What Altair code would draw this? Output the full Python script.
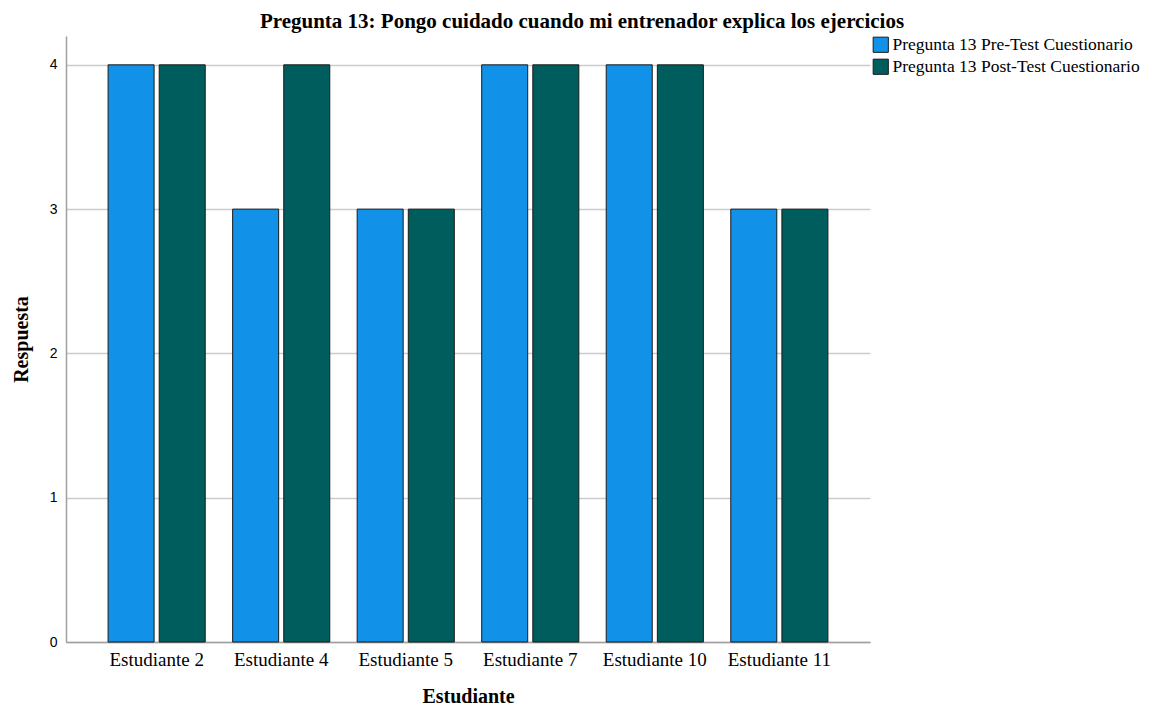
import altair as alt
import pandas as pd

students = ["Estudiante 2", "Estudiante 4", "Estudiante 5", "Estudiante 7", "Estudiante 10", "Estudiante 11"]
series = ["Pregunta 13 Pre-Test Cuestionario", "Pregunta 13 Post-Test Cuestionario"]
pre = [4, 3, 3, 4, 4, 3]
post = [4, 4, 3, 4, 4, 3]
colors = ["#1192e8", "#005d5d"]

rows = []
for s, a, b in zip(students, pre, post):
    rows.append({"Estudiante": s, "Serie": series[0], "Respuesta": a})
    rows.append({"Estudiante": s, "Serie": series[1], "Respuesta": b})
df = pd.DataFrame(rows)

SERIF = "Liberation Serif"

chart = alt.Chart(df).mark_bar(stroke="#1a1a1a", strokeWidth=1).encode(
    x=alt.X("Estudiante:N", sort=students,
            scale=alt.Scale(paddingInner=0.22, paddingOuter=0.338),
            axis=alt.Axis(title="Estudiante", labelAngle=0, labelFont=SERIF, labelFontSize=19,
                          labelColor="#000", labelPadding=8, ticks=False, labelLimit=200,
                          titleFont=SERIF, titleFontSize=20, titleFontWeight="bold",
                          titleColor="#000", titlePadding=17,
                          domainColor="#a0a0a0", domainWidth=1.5)),
    xOffset=alt.XOffset("Serie:N", sort=series, scale=alt.Scale(paddingInner=0.1)),
    y=alt.Y("Respuesta:Q", scale=alt.Scale(domain=[0, 4.2], nice=False),
            axis=alt.Axis(title="Respuesta", values=[0, 1, 2, 3, 4], format="d",
                          labelFont="Liberation Sans", labelFontSize=14, labelColor="#000",
                          labelPadding=9, ticks=False, grid=True, gridColor="#cccccc",
                          gridWidth=1.5,
                          titleFont=SERIF, titleFontSize=20, titleFontWeight="bold",
                          titleColor="#000", titlePadding=18,
                          domainColor="#a0a0a0", domainWidth=1.5)),
    color=alt.Color("Serie:N", sort=series,
                    scale=alt.Scale(domain=series, range=colors),
                    legend=alt.Legend(title=None, orient="none", legendX=806, legendY=0,
                                      symbolType="square", symbolSize=230,
                                      symbolStrokeColor="#1a1a1a", symbolStrokeWidth=1,
                                      symbolOpacity=1, labelLimit=400,
                                      labelFont=SERIF, labelFontSize=17.5, labelColor="#000",
                                      labelOffset=3, rowPadding=2)),
).properties(
    width=804,
    height=606,
    title=alt.TitleParams("Pregunta 13: Pongo cuidado cuando mi entrenador explica los ejercicios",
                          font=SERIF, fontSize=21, fontWeight="bold", color="#000",
                          anchor="middle", dx=114, offset=4),
    autosize=alt.AutoSizeParams(type="none"),
    padding={"left": 58, "top": 28, "right": 281, "bottom": 63},
).configure_view(stroke=None)

chart.save("out.html", embed_options={"renderer": "svg", "actions": False})
